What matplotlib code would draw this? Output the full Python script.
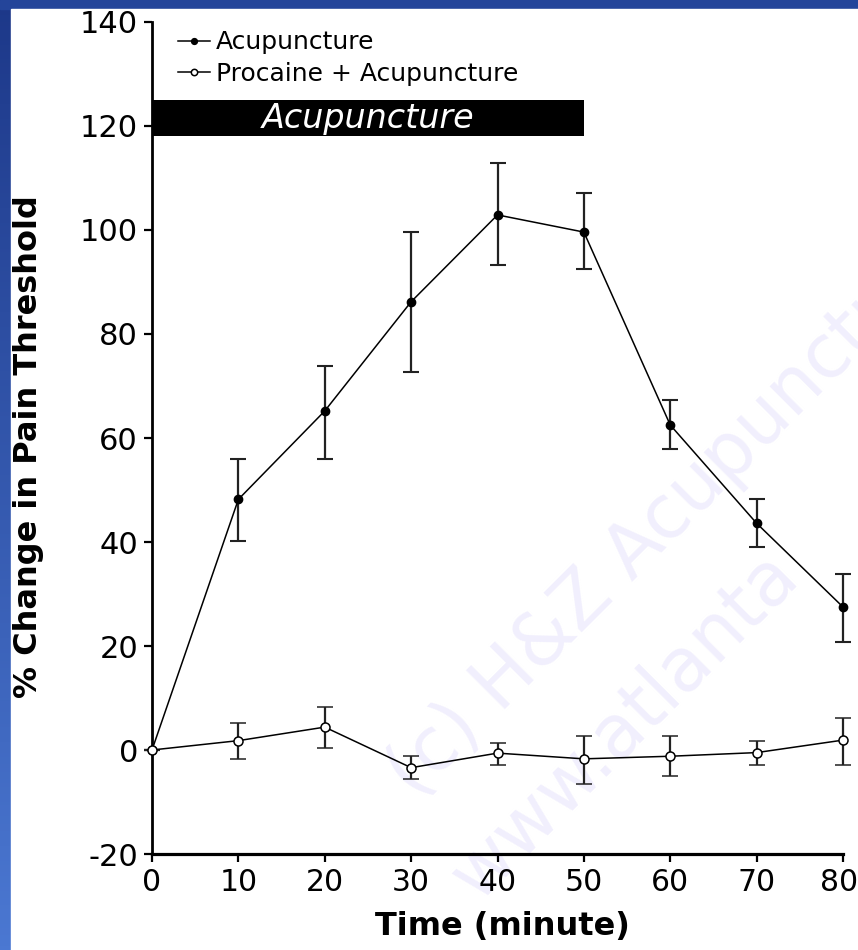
import numpy as np
import matplotlib
matplotlib.use('Agg')
import matplotlib.pyplot as plt
import matplotlib.transforms as mtransforms
from matplotlib.colors import LinearSegmentedColormap
from matplotlib.patches import Rectangle

plt.rcParams['axes.unicode_minus'] = False

# data
time = [0, 10, 20, 30, 40, 50, 60, 70, 80]

acu_mean = [0, 48.2, 65.2, 86.2, 102.9, 99.6, 62.5, 43.6, 27.5]
acu_lo = [0, 40.1, 55.9, 72.7, 93.3, 92.5, 57.9, 39.0, 20.8]
acu_hi = [0, 55.9, 73.8, 99.6, 112.9, 107.1, 67.3, 48.3, 33.8]

proc_mean = [0, 1.8, 4.4, -3.4, -0.6, -1.7, -1.2, -0.5, 1.9]
proc_lo = [0, -1.7, 0.3, -5.6, -2.8, -6.5, -5.0, -2.8, -2.8]
proc_hi = [0, 5.1, 8.3, -1.2, 1.3, 2.6, 2.6, 1.7, 6.1]

stim_start, stim_end = 0, 50
stim_lo, stim_hi = 118, 125

W, H = 858, 950

fig = plt.figure(figsize=(W / 100, H / 100), dpi=100)

# slide background: blue strip on left / top, white panel
bg = fig.add_axes([0, 0, 1, 1], zorder=-10)
cmap = LinearSegmentedColormap.from_list('slide', ['#1d3889', '#4b78d2'])
bg.imshow(np.linspace(0, 1, 256)[:, None], aspect='auto', cmap=cmap,
          extent=[0, 1, 0, 1], origin='upper')
bg.add_patch(Rectangle((0, 1 - 9 / H), 1, 9 / H, color='#24459a',
                       transform=bg.transAxes))
bg.add_patch(Rectangle((11 / W, 0), 1, 1 - 9 / H, color='white',
                       transform=bg.transAxes))
bg.set_xlim(0, 1)
bg.set_ylim(0, 1)
bg.axis('off')

ax = fig.add_axes([152 / W, 96 / H, 691 / W, 832 / H])
ax.patch.set_alpha(0)

# watermark (runs off the right edge as in the slide)
wm = dict(rotation=45, rotation_mode='anchor', ha='left', va='baseline',
          fontsize=53, color='#f1effd', transform=fig.transFigure,
          clip_on=False, zorder=0.5)
ax.text(415 / W, 1 - 800 / H, '(c) H&Z Acupuncture', **wm)
ax.text(478 / W, 1 - 902 / H, 'www.atlanta', **wm)

acu_err = [np.subtract(acu_mean, acu_lo), np.subtract(acu_hi, acu_mean)]
proc_err = [np.subtract(proc_mean, proc_lo), np.subtract(proc_hi, proc_mean)]

l1 = ax.errorbar(time, acu_mean, yerr=acu_err, color='black', lw=1.1,
                 marker='o', ms=6, mfc='black', mec='black',
                 ecolor='#222222', elinewidth=1.6, capsize=6, capthick=1.5,
                 label='Acupuncture', zorder=3)
l2 = ax.errorbar(time, proc_mean, yerr=proc_err, color='black', lw=1.1,
                 marker='o', ms=6.5, mfc='white', mec='black', mew=1.1,
                 ecolor='#222222', elinewidth=1.6, capsize=6, capthick=1.5,
                 label='Procaine + Acupuncture', zorder=4)
for c in (l1, l2):
    for art in c.get_children():
        art.set_clip_on(False)

# stimulation period bar
ax.barh((stim_lo + stim_hi) / 2, stim_end - stim_start, height=stim_hi - stim_lo,
        left=stim_start, color='black', zorder=2)
ax.text((stim_start + stim_end) / 2, (stim_lo + stim_hi) / 2, 'Acupuncture',
        color='white', style='italic', fontsize=24, ha='center', va='center',
        zorder=3)

ax.set_xlim(0, 80)
ax.set_ylim(-20, 140)
ax.set_xticks(time)
ax.set_yticks(np.arange(-20, 141, 20))

for s in ['top', 'right']:
    ax.spines[s].set_visible(False)
ax.spines['left'].set_linewidth(2.0)
ax.spines['bottom'].set_linewidth(2.3)
ax.tick_params(direction='out', length=6, width=1.6, labelsize=22, pad=4)
ax.tick_params(axis='x', labelsize=21.5)

# keep the last x label inside the slide
fig.canvas.draw()
last = ax.get_xticklabels()[-1]
last.set_transform(last.get_transform() +
                   mtransforms.ScaledTranslation(-4 / 100, 0, fig.dpi_scale_trans))

ax.set_xlabel('Time (minute)', fontsize=23, fontweight='bold')
ax.set_ylabel('% Change in Pain Threshold', fontsize=23, fontweight='bold')
ax.xaxis.set_label_coords(0.5065, -0.0685)
ax.yaxis.set_label_coords(-0.156, 0.49)

ax.legend(handles=[l1[0], l2[0]], labels=['Acupuncture', 'Procaine + Acupuncture'],
          loc='upper left', bbox_to_anchor=(0.0376, 0.99), frameon=False,
          fontsize=18, handlelength=1.28, handletextpad=0.24, labelspacing=0.3,
          borderpad=0, borderaxespad=0, markerscale=0.7)

plt.savefig('out.png', dpi=100)
